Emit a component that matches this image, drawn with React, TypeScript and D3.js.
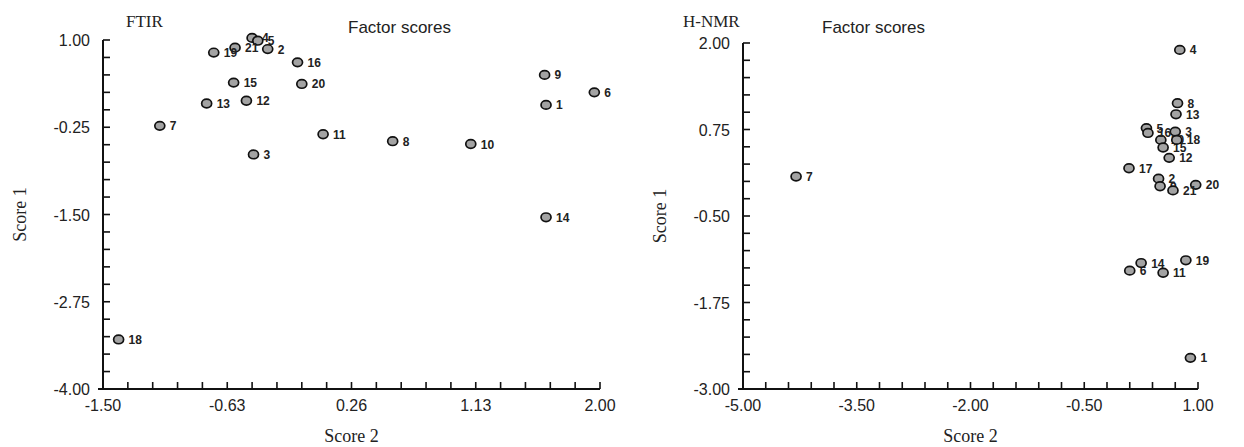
import React from "react";
import * as d3 from "d3";

// ---------- FTIR data ----------
const ftirIds = ["4", "5", "2", "21", "19", "16", "15", "20", "13", "12", "7", "3", "11", "8", "10", "9", "1", "6", "18", "14"];
const ftirScore2 = [-0.45, -0.41, -0.34, -0.57, -0.72, -0.13, -0.58, -0.1, -0.77, -0.49, -1.1, -0.44, 0.05, 0.54, 1.09, 1.61, 1.62, 1.96, -1.39, 1.62];
const ftirScore1 = [1.03, 0.99, 0.87, 0.89, 0.82, 0.68, 0.39, 0.37, 0.09, 0.13, -0.23, -0.64, -0.35, -0.45, -0.49, 0.5, 0.07, 0.25, -3.29, -1.54];
const ftirXTicks = [-1.5, -0.625, 0.25, 1.125, 2.0];
const ftirXTickLabels = ["-1.50", "-0.63", "0.26", "1.13", "2.00"];
const ftirYTicks = [1.0, -0.25, -1.5, -2.75, -4.0];
const ftirYTickLabels = ["1.00", "-0.25", "-1.50", "-2.75", "-4.00"];

// ---------- H-NMR data ----------
const nmrIds = ["1", "2", "3", "4", "5", "6", "7", "8", "9", "10", "11", "12", "13", "14", "15", "16", "17", "18", "19", "20", "21"];
const nmrScore2 = [0.9, 0.48, 0.7, 0.76, 0.32, 0.1, -4.3, 0.73, 0.5, 0.51, 0.54, 0.62, 0.71, 0.25, 0.54, 0.34, 0.09, 0.72, 0.84, 0.97, 0.67];
const nmrScore1 = [-2.55, 0.04, 0.72, 1.9, 0.77, -1.29, 0.07, 1.13, -0.07, 0.6, -1.32, 0.34, 0.97, -1.18, 0.49, 0.7, 0.19, 0.6, -1.14, -0.05, -0.13];
const nmrXTicks = [-5, -3.5, -2, -0.5, 1];
const nmrXTickLabels = ["-5.00", "-3.50", "-2.00", "-0.50", "1.00"];
const nmrYTicks = [2.0, 0.75, -0.5, -1.75, -3.0];
const nmrYTickLabels = ["2.00", "0.75", "-0.50", "-1.75", "-3.00"];

type PanelProps = {
  ids: string[];
  xs: number[];
  ys: number[];
  xTicks: number[];
  xTickLabels: string[];
  yTicks: number[];
  yTickLabels: string[];
  left: number;
  right: number;
  top: number;
  bottom: number;
  title: string;
  titleX: number;
  factorX: number;
};

const sans = "'Liberation Sans', Arial, sans-serif";
const serif = "'Liberation Serif', 'Times New Roman', serif";

function Panel(p: PanelProps) {
  const x = d3.scaleLinear().domain([p.xTicks[0], p.xTicks[p.xTicks.length - 1]]).range([p.left, p.right]);
  const y = d3.scaleLinear().domain([p.yTicks[p.yTicks.length - 1], p.yTicks[0]]).range([p.bottom, p.top]);
  const xMinor: number[] = [];
  for (let i = 0; i < p.xTicks.length - 1; i++) {
    const a = p.xTicks[i], b = p.xTicks[i + 1];
    for (let k = 0; k < 5; k++) xMinor.push(a + ((b - a) * k) / 5);
  }
  xMinor.push(p.xTicks[p.xTicks.length - 1]);
  const yMinor: number[] = [];
  for (let i = 0; i < p.yTicks.length - 1; i++) {
    const a = p.yTicks[i], b = p.yTicks[i + 1];
    for (let k = 0; k < 5; k++) yMinor.push(a + ((b - a) * k) / 5);
  }
  const tl = 7;
  return (
    <g>
      <text x={p.titleX} y={27} fontFamily={serif} fontSize={17} fill="#222">{p.title}</text>
      <text x={p.factorX} y={33} fontFamily={sans} fontSize={17} fill="#222">Factor scores</text>
      {/* axes */}
      <line x1={p.left} x2={p.left} y1={p.top} y2={p.bottom} stroke="#111" strokeWidth={2} />
      <line x1={p.left - 5} x2={p.right} y1={p.bottom} y2={p.bottom} stroke="#111" strokeWidth={2} />
      {yMinor.map((v, i) => (
        <line key={"ym" + i} x1={p.left} x2={p.left + tl} y1={y(v)} y2={y(v)} stroke="#111" strokeWidth={1.6} />
      ))}
      {xMinor.map((v, i) => (
        <line key={"xm" + i} x1={x(v)} x2={x(v)} y1={p.bottom} y2={p.bottom - tl} stroke="#111" strokeWidth={1.6} />
      ))}
      {p.yTicks.map((v, i) => (
        <text key={"yl" + i} x={p.left - 13} y={y(v) + 6} textAnchor="end" fontFamily={sans} fontSize={16} fill="#222">
          {p.yTickLabels[i]}
        </text>
      ))}
      {p.xTicks.map((v, i) => (
        <text key={"xl" + i} x={x(v)} y={p.bottom + 22} textAnchor="middle" fontFamily={sans} fontSize={16} fill="#222">
          {p.xTickLabels[i]}
        </text>
      ))}
      <text
        transform={`translate(${p.left - 77},${(p.top + p.bottom) / 2}) rotate(-90)`}
        textAnchor="middle"
        fontFamily={serif}
        fontSize={18}
        fill="#222"
      >
        Score 1
      </text>
      <text x={(p.left + p.right) / 2} y={442} textAnchor="middle" fontFamily={serif} fontSize={18} fill="#222">
        Score 2
      </text>
      {p.ids.map((id, i) => (
        <g key={"pt" + i}>
          <ellipse cx={x(p.xs[i])} cy={y(p.ys[i])} rx={5} ry={4.3} fill="#a3a3a3" stroke="#111" strokeWidth={1.7} />
          <text x={x(p.xs[i]) + 10} y={y(p.ys[i]) + 4.5} fontFamily={sans} fontWeight="bold" fontSize={12} fill="#222">
            {id}
          </text>
        </g>
      ))}
    </g>
  );
}

export default function App() {
  return (
    <svg width={1244} height={447} style={{ position: "absolute", left: 0, top: 0, background: "#fff" }}>
      <rect width={1244} height={447} fill="#fff" />
      <Panel
        ids={ftirIds}
        xs={ftirScore2}
        ys={ftirScore1}
        xTicks={ftirXTicks}
        xTickLabels={ftirXTickLabels}
        yTicks={ftirYTicks}
        yTickLabels={ftirYTickLabels}
        left={103}
        right={600}
        top={40}
        bottom={389}
        title="FTIR"
        titleX={126}
        factorX={348}
      />
      <Panel
        ids={nmrIds}
        xs={nmrScore2}
        ys={nmrScore1}
        xTicks={nmrXTicks}
        xTickLabels={nmrXTickLabels}
        yTicks={nmrYTicks}
        yTickLabels={nmrYTickLabels}
        left={743}
        right={1198}
        top={43}
        bottom={389}
        title="H-NMR"
        titleX={683}
        factorX={822}
      />
    </svg>
  );
}
